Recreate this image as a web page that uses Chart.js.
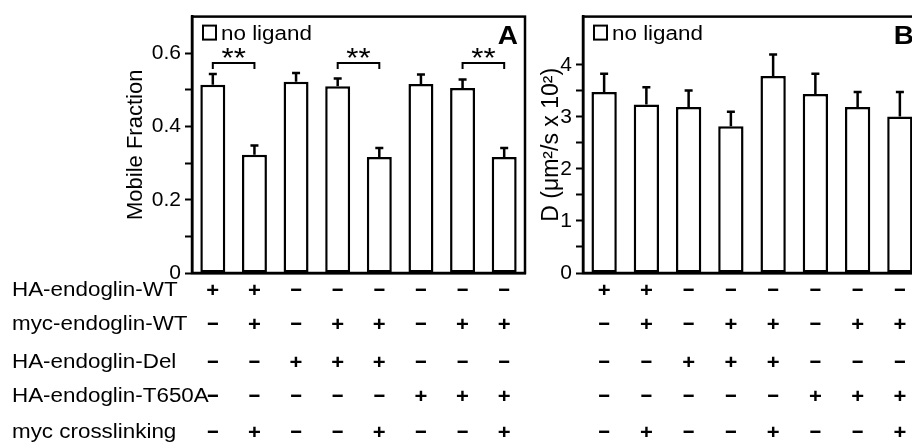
<!doctype html>
<html lang="en">
<head>
<meta charset="utf-8" />
<title>Endoglin mobility</title>
<style>
  body{margin:0;background:#fff;width:912px;height:444px;overflow:hidden;position:relative}
  .panel{position:absolute;top:0}
  #pa{left:0}
  #pb{left:530px}
</style>
<script src="https://cdn.jsdelivr.net/npm/chart.js@4.4.1/dist/chart.umd.min.js"></script>
</head>
<body>
<canvas id="pa" class="panel" width="540" height="444"></canvas>
<canvas id="pb" class="panel" width="400" height="444"></canvas>
<script>
// data
const groups = ['1', '2', '3', '4', '5', '6', '7', '8'];
const rowLabels = ['HA-endoglin-WT', 'myc-endoglin-WT', 'HA-endoglin-Del', 'HA-endoglin-T650A', 'myc crosslinking'];
const rowSigns = [
  ['+', '+', '-', '-', '-', '-', '-', '-'],
  ['-', '+', '-', '+', '+', '-', '+', '+'],
  ['-', '-', '+', '+', '+', '-', '-', '-'],
  ['-', '-', '-', '-', '-', '+', '+', '+'],
  ['-', '+', '-', '-', '+', '-', '-', '+'],
];
const mobileFraction = [0.514, 0.323, 0.522, 0.510, 0.317, 0.516, 0.505, 0.317];
const mobileFractionErr = [0.029, 0.025, 0.024, 0.021, 0.024, 0.026, 0.023, 0.024];
const diffusion = [3.48, 3.24, 3.19, 2.82, 3.79, 3.44, 3.19, 3.01];
const diffusionErr = [0.35, 0.33, 0.32, 0.28, 0.41, 0.39, 0.29, 0.47];
const ticksA = [0, 0.1, 0.2, 0.3, 0.4, 0.5, 0.6];
const tickLabelsA = ['0', '', '0.2', '', '0.4', '', '0.6'];
const ticksB = [0, 0.5, 1, 1.5, 2, 2.5, 3, 3.5, 4];
const tickLabelsB = ['0', '', '1', '', '2', '', '3', '', '4'];
const sigPairs = [[0, 1], [3, 4], [6, 7]];
const sigLevel = 0.573;

const FONT = "'Liberation Sans', Arial, sans-serif";
const SX = 1.12;               // the original lettering is set a little wide
const LW = 2.5;
const rowY = [289, 323, 361, 395, 431];
Chart.defaults.font.family = FONT;
Chart.defaults.color = '#000';

function txt(ctx, s, x, y, size, opts = {}) {
  ctx.save();
  ctx.font = (opts.bold ? 'bold ' : '') + size + 'px ' + FONT;
  ctx.textAlign = opts.align || 'left';
  ctx.textBaseline = 'alphabetic';
  ctx.translate(x, y + size * 0.36);
  ctx.scale(opts.sx || SX, 1);
  ctx.fillText(s, 0, 0);
  ctx.restore();
}

const figure = {
  id: 'figure',
  afterDatasetsDraw(chart, args, o) {
    const { ctx, chartArea: a, scales: { x, y } } = chart;
    ctx.save();
    ctx.strokeStyle = '#000'; ctx.fillStyle = '#000'; ctx.lineWidth = LW;
    ctx.strokeRect(a.left, a.top, a.right - a.left, a.bottom - a.top);

    // upper error bars
    o.values.forEach((v, i) => {
      const cx = x.getPixelForValue(i);
      const y0 = y.getPixelForValue(v), y1 = y.getPixelForValue(v + o.errors[i]);
      ctx.beginPath();
      ctx.moveTo(cx, y0); ctx.lineTo(cx, y1);
      ctx.moveTo(cx - 4, y1); ctx.lineTo(cx + 4, y1);
      ctx.stroke();
    });

    // legend + panel letter
    ctx.lineWidth = 2;
    ctx.strokeRect(a.left + 11, a.top + 9, 13, 14);
    txt(ctx, 'no ligand', a.left + 29, a.top + 16, 20);
    txt(ctx, o.letter, a.right - 7, a.top + 18, 25, { bold: true, align: 'right' });

    // significance brackets
    (o.pairs || []).forEach(([i, j]) => {
      const x0 = x.getPixelForValue(i), x1 = x.getPixelForValue(j), yb = y.getPixelForValue(o.level);
      ctx.beginPath();
      ctx.moveTo(x0, yb + 6); ctx.lineTo(x0, yb); ctx.lineTo(x1, yb); ctx.lineTo(x1, yb + 6);
      ctx.stroke();
      ctx.save();
      ctx.font = '28px ' + FONT; ctx.textAlign = 'center'; ctx.textBaseline = 'alphabetic';
      ctx.translate((x0 + x1) / 2, yb + 4); ctx.scale(SX, 1);
      ctx.fillText('**', 0, 0);
      ctx.restore();
    });

    // condition table under the axis
    rowSigns.forEach((row, r) => {
      if (o.rowLabels) txt(ctx, rowLabels[r], 12, rowY[r], 20);
      row.forEach((s, i) => {
        const cx = x.getPixelForValue(i);
        if (s === '+') txt(ctx, s, cx, rowY[r], 21, { bold: true, align: 'center', sx: 1.05 });
        else txt(ctx, s, cx, rowY[r] - 1, 20, { bold: true, align: 'center', sx: 2 });
      });
    });
    ctx.restore();
  }
};

function panel(id, o) {
  return new Chart(document.getElementById(id), {
    type: 'bar',
    data: {
      labels: groups,
      datasets: [{
        data: o.values,
        backgroundColor: '#fff', borderColor: '#000', borderWidth: LW, borderSkipped: false,
        barPercentage: 0.6, categoryPercentage: 1,
      }]
    },
    options: {
      responsive: false, animation: false, events: [],
      layout: { padding: o.padding },
      plugins: {
        legend: { display: false }, tooltip: { enabled: false },
        figure: o,
      },
      scales: {
        x: {
          ticks: { display: false },
          grid: { display: false, drawTicks: false },
          border: { display: true, color: '#000', width: LW },
          afterFit: s => { s.height = 0; },
        },
        y: {
          min: 0, max: o.max,
          afterBuildTicks: s => { s.ticks = o.ticks.map(v => ({ value: v })); },
          ticks: { callback: (v, i) => o.tickLabels[i], font: { size: 21 }, color: '#000', padding: 4, autoSkip: false },
          grid: { drawOnChartArea: false, tickLength: 7, tickWidth: 2, tickColor: '#000' },
          border: { color: '#000', width: LW },
          title: { display: true, text: o.title, font: { size: o.titleSize }, color: '#000', padding: { top: 4, bottom: 4 } },
          afterFit: s => { s.width = o.axisWidth; },
        }
      }
    },
    plugins: [figure]
  });
}

panel('pa', {
  values: mobileFraction, errors: mobileFractionErr, max: 0.7,
  ticks: ticksA, tickLabels: tickLabelsA, title: 'Mobile Fraction', titleSize: 22,
  letter: 'A', pairs: sigPairs, level: sigLevel, rowLabels: true,
  padding: { left: 119, right: 15, top: 10, bottom: 171 }, axisWidth: 73,
});
panel('pb', {
  values: diffusion, errors: diffusionErr, max: 4.93,
  ticks: ticksB, tickLabels: tickLabelsB, title: 'D (μm²/s x 10²)', titleSize: 23,
  letter: 'B', rowLabels: false,
  padding: { left: 4, right: 9, top: 10, bottom: 171 }, axisWidth: 49,
});
</script>
</body>
</html>
